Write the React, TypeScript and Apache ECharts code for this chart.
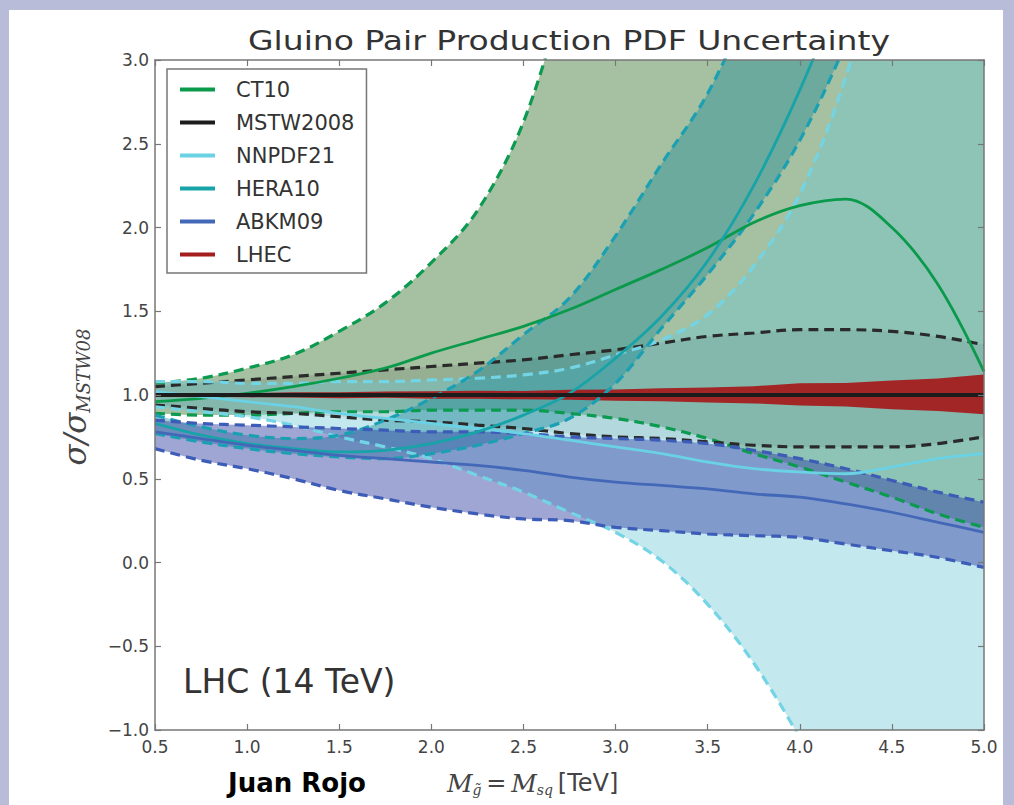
import React, { useEffect, useRef } from "react";
import * as echarts from "echarts";

// ---- data ----
const XS = [0.5, 0.75, 1.0, 1.25, 1.5, 1.75, 2.0, 2.25, 2.5, 2.75, 3.0, 3.25, 3.5, 3.75, 4.0, 4.25, 4.5, 4.75, 5.0];

const CT10_C = [0.96, 0.98, 1.01, 1.05, 1.10, 1.16, 1.25, 1.33, 1.41, 1.51, 1.63, 1.75, 1.88, 2.03, 2.13, 2.17, 2.00, 1.66, 1.14];
const CT10_U = [1.07, 1.10, 1.16, 1.24, 1.38, 1.55, 1.79, 2.10, 2.63, 3.5, 4.4, 5.3, 6.2, 7.1, 8.0, 9.0, 10.0, 11.0, 12.0];
const CT10_L = [0.89, 0.88, 0.88, 0.89, 0.90, 0.90, 0.91, 0.91, 0.91, 0.89, 0.86, 0.81, 0.74, 0.65, 0.57, 0.48, 0.39, 0.29, 0.21];

const MSTW_C = [1.0, 1.0, 1.0, 1.0, 1.0, 1.0, 1.0, 1.0, 1.0, 1.0, 1.0, 1.0, 1.0, 1.0, 1.0, 1.0, 1.0, 1.0, 1.0];
const MSTW_U = [1.05, 1.07, 1.09, 1.11, 1.13, 1.15, 1.17, 1.19, 1.21, 1.24, 1.27, 1.31, 1.35, 1.37, 1.39, 1.39, 1.38, 1.35, 1.30];
const MSTW_L = [0.94, 0.92, 0.90, 0.89, 0.87, 0.85, 0.84, 0.82, 0.80, 0.77, 0.75, 0.74, 0.72, 0.70, 0.69, 0.69, 0.69, 0.71, 0.75];

const NNPDF_C = [1.02, 0.99, 0.96, 0.93, 0.89, 0.86, 0.83, 0.80, 0.77, 0.73, 0.69, 0.65, 0.60, 0.56, 0.54, 0.53, 0.57, 0.62, 0.65];
const NNPDF_U = [1.08, 1.08, 1.07, 1.07, 1.08, 1.08, 1.09, 1.10, 1.12, 1.16, 1.24, 1.33, 1.48, 1.77, 2.20, 2.90, 3.9, 5.0, 6.2];
const NNPDF_L = [0.93, 0.90, 0.87, 0.82, 0.75, 0.69, 0.62, 0.52, 0.42, 0.30, 0.18, 0.01, -0.25, -0.60, -1.05, -1.6, -2.2, -2.8, -3.4];

const HERA_C = [0.83, 0.76, 0.71, 0.68, 0.66, 0.67, 0.71, 0.78, 0.88, 1.01, 1.22, 1.47, 1.80, 2.25, 2.82, 3.5, 4.3, 5.2, 6.2];
const HERA_U = [0.88, 0.81, 0.76, 0.74, 0.76, 0.85, 0.98, 1.14, 1.36, 1.58, 1.95, 2.38, 2.80, 3.4, 4.1, 4.9, 5.8, 6.8, 8.0];
const HERA_L = [0.77, 0.72, 0.68, 0.65, 0.63, 0.62, 0.65, 0.70, 0.77, 0.86, 1.07, 1.40, 1.72, 2.08, 2.52, 3.1, 3.8, 4.6, 5.5];

const ABKM_C = [0.78, 0.74, 0.70, 0.67, 0.64, 0.62, 0.60, 0.58, 0.55, 0.51, 0.48, 0.46, 0.44, 0.41, 0.39, 0.35, 0.30, 0.24, 0.18];
const ABKM_U = [0.85, 0.83, 0.82, 0.81, 0.80, 0.79, 0.78, 0.78, 0.77, 0.75, 0.74, 0.73, 0.71, 0.67, 0.62, 0.56, 0.49, 0.42, 0.36];
const ABKM_L = [0.68, 0.61, 0.56, 0.50, 0.43, 0.38, 0.33, 0.29, 0.26, 0.25, 0.21, 0.19, 0.17, 0.16, 0.15, 0.11, 0.07, 0.03, -0.03];

const LHEC_U = [1.008, 1.01, 1.012, 1.016, 1.017, 1.021, 1.022, 1.026, 1.024, 1.031, 1.033, 1.04, 1.045, 1.052, 1.07, 1.071, 1.086, 1.098, 1.122];
const LHEC_L = [0.992, 0.99, 0.986, 0.985, 0.981, 0.983, 0.978, 0.978, 0.974, 0.972, 0.966, 0.963, 0.955, 0.95, 0.938, 0.932, 0.915, 0.905, 0.885];

const Y_MIN = -1.0;
const Y_MAX = 3.0;
const Y_STEP = 0.5;

const SETS = [
  { name: "CT10", c: CT10_C, u: CT10_U, l: CT10_L, line: "#0b9a4c", dash: "#0b9a50", fill: "rgba(30,100,20,0.40)" },
  { name: "MSTW2008", c: MSTW_C, u: MSTW_U, l: MSTW_L, line: "#1c1c1c", dash: "#2a2a2a", fill: "rgba(40,40,40,0.12)" },
  { name: "NNPDF21", c: NNPDF_C, u: NNPDF_U, l: NNPDF_L, line: "#6ad2e4", dash: "#72d4e4", fill: "rgba(105,200,215,0.40)" },
  { name: "HERA10", c: HERA_C, u: HERA_U, l: HERA_L, line: "#17a3a8", dash: "#1aa0b2", fill: "rgba(20,135,150,0.40)" },
  { name: "ABKM09", c: ABKM_C, u: ABKM_U, l: ABKM_L, line: "#4468b8", dash: "#3c5cb8", fill: "rgba(44,57,159,0.45)" },
];
const LHEC_COLOR = "#a41d1f";

const fmtY = (v: number) => (v < 0 ? "\u2212" : "") + Math.abs(v).toFixed(1);
const CATS = XS.map((x) => x.toFixed(2));
const fmtX = (v: string) => Number(v).toFixed(1);

function buildSeries() {
  const s: any[] = [];
  SETS.forEach((d) => {
    const stack = d.name + "-band";
    s.push({
      name: d.name + " lower base", type: "line", data: d.l.slice(), stack, stackStrategy: "all",
      symbol: "none", smooth: 0.35, lineStyle: { width: 0 }, silent: true, z: 1,
    });
    s.push({
      name: d.name + " band", type: "line", data: d.u.map((u, i) => u - d.l[i]), stack, stackStrategy: "all",
      symbol: "none", smooth: 0.35, lineStyle: { width: 0 }, areaStyle: { color: d.fill, opacity: 1 }, silent: true, z: 1,
    });
  });
  s.push({
    name: "LHEC base", type: "line", data: LHEC_L.slice(), stack: "LHEC-band", stackStrategy: "all",
    symbol: "none", smooth: false, lineStyle: { width: 0 }, silent: true, z: 2,
  });
  s.push({
    name: "LHEC", type: "line", data: LHEC_U.map((u, i) => u - LHEC_L[i]), stack: "LHEC-band", stackStrategy: "all",
    symbol: "none", smooth: false, lineStyle: { width: 0 }, itemStyle: { color: LHEC_COLOR },
    areaStyle: { color: LHEC_COLOR, opacity: 0.95 }, silent: true, z: 2,
  });
  SETS.forEach((d) => {
    [d.u, d.l].forEach((arr, j) => {
      s.push({
        name: d.name + (j ? " lower" : " upper"), type: "line", data: arr.slice(), symbol: "none", smooth: 0.35,
        lineStyle: { color: d.dash, width: 3.2, type: [10, 6] }, silent: true, z: 3,
      });
    });
  });
  SETS.forEach((d) => {
    if (d.name === "MSTW2008") return;
    s.push({
      name: d.name, type: "line", data: d.c.slice(), symbol: "none", smooth: 0.35,
      itemStyle: { color: d.line }, lineStyle: { color: d.line, width: 2.8 }, silent: true, z: 4,
    });
  });
  const m = SETS[1];
  s.push({
    name: m.name, type: "line", data: m.c.slice(), symbol: "none",
    itemStyle: { color: m.line }, lineStyle: { color: m.line, width: 4 }, silent: true, z: 5,
  });
  return s;
}

const axisLineStyle = { show: true, onZero: false, lineStyle: { color: "#777", width: 1.5 } };
const tickStyle = { show: true, inside: true, length: 6, lineStyle: { color: "#777", width: 1.2 } };
const labelStyle = { fontFamily: "DejaVu Sans", fontSize: 17, color: "#444" };

export default function App() {
  const ref = useRef<HTMLDivElement>(null);
  useEffect(() => {
    if (!ref.current) return;
    const chart = echarts.init(ref.current, undefined, { renderer: "svg" });
    const xCommon = {
      type: "category", data: CATS, boundaryGap: false, axisLine: axisLineStyle,
      axisTick: { ...tickStyle, interval: 1 }, splitLine: { show: false }, z: 10,
    };
    const yCommon = {
      type: "value", min: Y_MIN, max: Y_MAX, interval: Y_STEP, axisLine: axisLineStyle,
      axisTick: tickStyle, splitLine: { show: false }, z: 10,
    };
    const option: any = {
      animation: false,
      backgroundColor: "transparent",
      grid: { left: 155, top: 60, width: 829, height: 670 },
      xAxis: [
        { ...xCommon, position: "bottom", axisLabel: { ...labelStyle, margin: 8, interval: 1, formatter: fmtX } },
        { ...xCommon, position: "top", axisLabel: { show: false } },
      ],
      yAxis: [
        { ...yCommon, position: "left", axisLabel: { ...labelStyle, margin: 6, formatter: fmtY } },
        { ...yCommon, position: "right", axisLabel: { show: false } },
      ],
      legend: {
        show: true, orient: "vertical", left: 167, top: 69, selectedMode: false,
        padding: [10, 12, 8, 13], itemWidth: 35, itemHeight: 4, itemGap: 12, icon: "rect",
        backgroundColor: "#ffffff", borderColor: "#777", borderWidth: 1.5, borderRadius: 0,
        textStyle: { fontFamily: "DejaVu Sans", fontSize: 21, color: "#333", lineHeight: 20, padding: [0, 0, 0, 16] },
        data: [
          { name: "CT10", itemStyle: { color: SETS[0].line } },
          { name: "MSTW2008", itemStyle: { color: SETS[1].line } },
          { name: "NNPDF21", itemStyle: { color: SETS[2].line } },
          { name: "HERA10", itemStyle: { color: SETS[3].line } },
          { name: "ABKM09", itemStyle: { color: SETS[4].line } },
          { name: "LHEC", itemStyle: { color: LHEC_COLOR } },
        ],
        z: 20,
      },
      graphic: [
        {
          type: "text", x: 569, y: 41, scaleX: 1.27, z: 30,
          style: { text: "Gluino Pair Production PDF Uncertainty", font: '26px "DejaVu Sans"', fill: "#333",
            align: "center", verticalAlign: "middle", textAlign: "center", textVerticalAlign: "middle" },
        },
        {
          type: "text", x: 183, y: 681, z: 30,
          style: { text: "LHC (14 TeV)", font: '33px "DejaVu Sans"', fill: "#333",
            align: "left", verticalAlign: "middle", textAlign: "left", textVerticalAlign: "middle" },
        },
        {
          type: "text", x: 228, y: 783, z: 30,
          style: { text: "Juan Rojo", font: 'bold 26px "DejaVu Sans"', fill: "#000",
            align: "left", verticalAlign: "middle", textAlign: "left", textVerticalAlign: "middle" },
        },
        {
          type: "text", x: 447, y: 783, z: 30,
          style: {
            text: "{m|M}{s|g\u0303}{e|\u2009=\u2009}{m|M}{s|sq}{t|\u2009[TeV]}",
            align: "left", verticalAlign: "middle", textAlign: "left", textVerticalAlign: "middle",
            rich: {
              m: { fontFamily: "DejaVu Serif", fontStyle: "italic", fontSize: 25, fill: "#444", color: "#444" },
              s: { fontFamily: "DejaVu Serif", fontStyle: "italic", fontSize: 14, fill: "#444", color: "#444", padding: [14, 0, 0, 0] },
              e: { fontFamily: "DejaVu Serif", fontSize: 24, fill: "#444", color: "#444" },
              t: { fontFamily: "DejaVu Sans", fontSize: 24, fill: "#444", color: "#444" },
            },
          },
        },
        {
          type: "text", x: 75, y: 397, rotation: Math.PI / 2, z: 30,
          style: {
            text: "{m|\u03c3/\u03c3}{s|MSTW08}",
            align: "center", verticalAlign: "middle", textAlign: "center", textVerticalAlign: "middle",
            rich: {
              m: { fontFamily: "DejaVu Serif", fontStyle: "italic", fontSize: 31, fill: "#444", color: "#444" },
              s: { fontFamily: "DejaVu Serif", fontStyle: "italic", fontSize: 18, fill: "#444", color: "#444", padding: [16, 0, 0, 0] },
            },
          },
        },
      ],
      series: buildSeries(),
    };
    chart.setOption(option);
    return () => chart.dispose();
  }, []);

  return (
    <div style={{ position: "fixed", left: 0, top: 0, width: 1014, height: 805, background: "#b9bcd9", overflow: "hidden" }}>
      <div style={{ position: "absolute", left: 9, top: 10, width: 994, height: 795, background: "#ffffff" }} />
      <div ref={ref} style={{ position: "absolute", left: 0, top: 0, width: 1014, height: 805 }} />
    </div>
  );
}
